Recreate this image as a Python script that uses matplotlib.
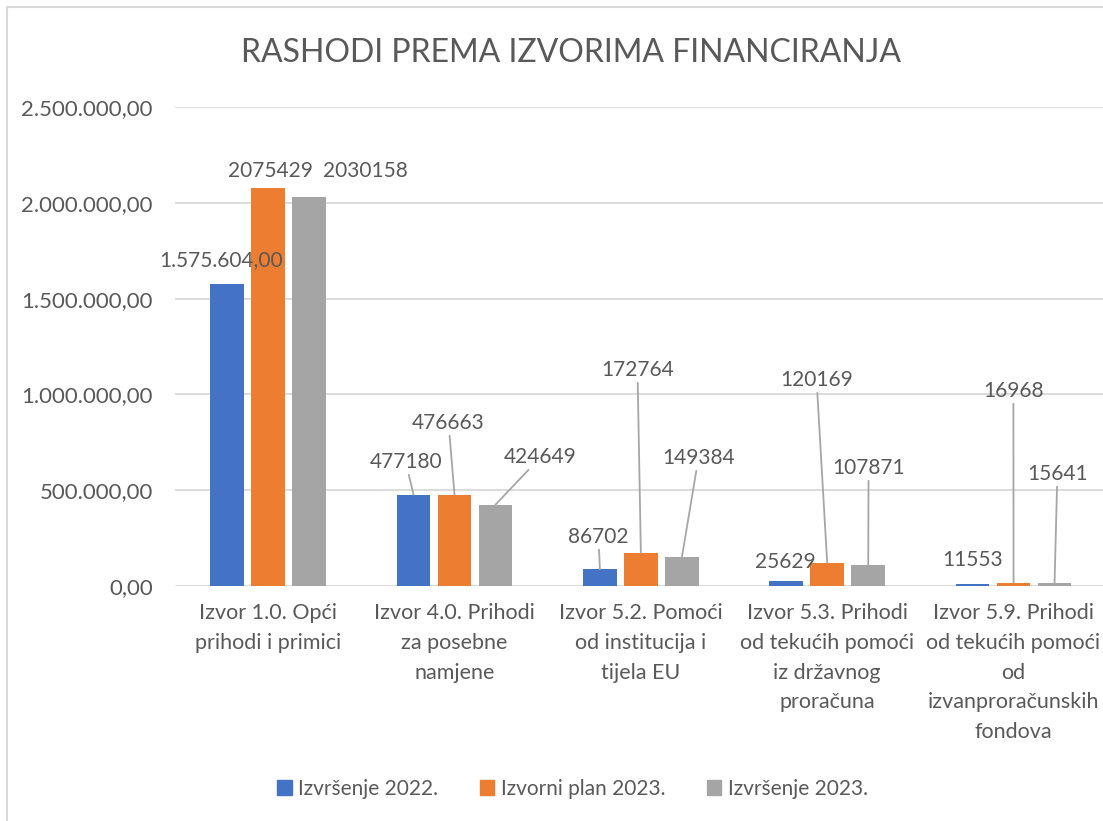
"""Rashodi prema izvorima financiranja - grouped bar chart."""

import matplotlib
matplotlib.use("Agg")
import matplotlib.pyplot as plt
from matplotlib.patches import Patch
from matplotlib.lines import Line2D
import numpy as np

categories = [
    "Izvor 1.0. Opći\nprihodi i primici",
    "Izvor 4.0. Prihodi\nza posebne\nnamjene",
    "Izvor 5.2. Pomoći\nod institucija i\ntijela EU",
    "Izvor 5.3. Prihodi\nod tekućih pomoći\niz državnog\nproračuna",
    "Izvor 5.9. Prihodi\nod tekućih pomoći\nod\nizvanproračunskih\nfondova",
]
series_names = ["Izvršenje 2022.", "Izvorni plan 2023.", "Izvršenje 2023."]
izvrsenje_2022 = [1575604, 477180, 86702, 25629, 11553]
plan_2023 = [2075429, 476663, 172764, 120169, 16968]
izvrsenje_2023 = [2030158, 424649, 149384, 107871, 15641]
y_ticks = [0, 500000, 1000000, 1500000, 2000000, 2500000]

colors = ["#4472C4", "#ED7D31", "#A5A5A5"]
text_col = "#595959"
grid_col = "#D9D9D9"

# label placement (data coords) and whether a leader line is drawn
label_xy = [
    [(-0.255, 1701000), (0.738, 647000), (1.773, 256000), (2.776, 125000), (3.779, 136000)],
    [(0.013, 2166000), (0.968, 851000), (1.982, 1127000), (2.943, 1075000), (3.999, 1018000)],
    [(0.523, 2166000), (1.462, 673000), (2.309, 668000), (3.222, 616000), (4.235, 585000)],
]
leader = [
    [False, True, True, False, False],
    [False, True, True, True, True],
    [False, True, True, True, True],
]


def fmt_hr(v):
    s = f"{v:,.2f}"
    return s.replace(",", "X").replace(".", ",").replace("X", ".")


plt.rcParams["font.family"] = ["Lato", "DejaVu Sans"]

fig = plt.figure(figsize=(11.03, 8.21), dpi=100)
ax = fig.add_axes([175 / 1103, 1 - 586 / 821, 928 / 1103, 479 / 821])

x = np.arange(len(categories))
width = 0.18
step = 0.22
data = [izvrsenje_2022, plan_2023, izvrsenje_2023]
for i, (vals, col, name) in enumerate(zip(data, colors, series_names)):
    xs = x + (i - 1) * step
    ax.bar(xs, vals, width, color=col, label=name, zorder=3)
    for j, v in enumerate(vals):
        txt = fmt_hr(v) if (i == 0 and j == 0) else str(v)
        lx, ly = label_xy[i][j]
        if leader[i][j]:
            ax.annotate(txt, xy=(xs[j], v), xytext=(lx, ly), ha="center", va="center",
                        fontsize=15, color=text_col, zorder=4,
                        arrowprops=dict(arrowstyle="-", color="#A6A6A6", lw=1.3,
                                        shrinkA=0, shrinkB=0))
        else:
            ax.text(lx, ly, txt, ha="center", va="center", fontsize=15,
                    color=text_col, zorder=4)

ax.set_xlim(-0.5, 4.48)
ax.set_ylim(0, 2500000)
ax.set_yticks(y_ticks)
ax.set_yticklabels([fmt_hr(t) for t in y_ticks], fontsize=16, color=text_col)
ax.set_xticks(x)
ax.set_xticklabels(categories, fontsize=15.5, color=text_col, linespacing=1.62, va="top")
ax.tick_params(axis="both", length=0)
ax.tick_params(axis="y", pad=16)
ax.tick_params(axis="x", pad=12)
ax.grid(axis="y", color=grid_col, lw=1.3, zorder=0)
for s in ax.spines.values():
    s.set_visible(False)

fig.text(0.518, 0.935, "RASHODI PREMA IZVORIMA FINANCIRANJA", ha="center", va="center",
         fontsize=23, color=text_col)

handles = [Patch(color=c) for c in colors]
fig.legend(handles, series_names, loc="center", bbox_to_anchor=(0.519, 0.039), ncol=3,
           frameon=False, fontsize=15, labelcolor=text_col, handlelength=0.7,
           handleheight=0.7, handletextpad=0.3, columnspacing=2.0)

# chart border
fig.add_artist(Line2D([7 / 1103, 7 / 1103], [0, 1 - 7 / 821], color=grid_col, lw=1.5))
fig.add_artist(Line2D([7 / 1103, 1], [1 - 7 / 821, 1 - 7 / 821], color=grid_col, lw=1.5))

fig.savefig("out.png", dpi=100)
